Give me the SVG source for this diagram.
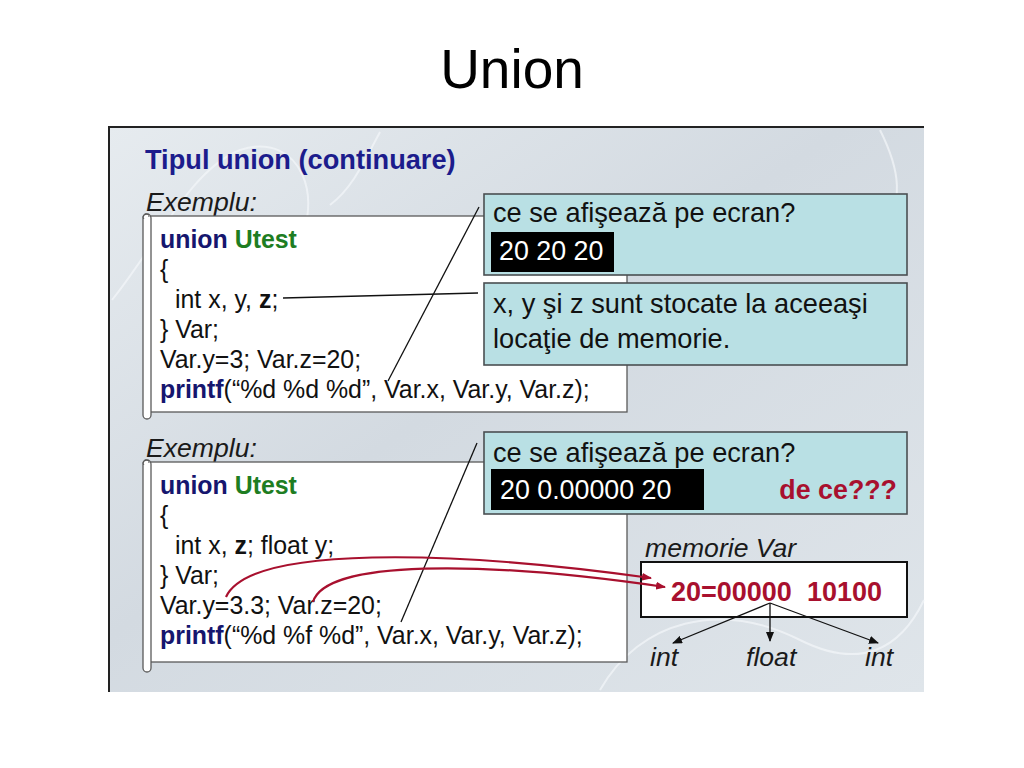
<svg xmlns="http://www.w3.org/2000/svg" width="1024" height="768" viewBox="0 0 1024 768">
<defs>
<linearGradient id="bg" x1="0" y1="0" x2="1" y2="1">
<stop offset="0" stop-color="#e6ebef"/>
<stop offset="0.45" stop-color="#d3dae1"/>
<stop offset="1" stop-color="#dfe5ea"/>
</linearGradient>
<marker id="ah" markerWidth="10" markerHeight="8" refX="9" refY="4" orient="auto" markerUnits="userSpaceOnUse">
<path d="M0,0 L10,4 L0,8 z" fill="#111"/>
</marker>
<marker id="ahr" markerWidth="10" markerHeight="8" refX="9" refY="4" orient="auto" markerUnits="userSpaceOnUse">
<path d="M0,0 L10,4 L0,8 z" fill="#a8102e"/>
</marker>
</defs>
<style>
text{font-family:"Liberation Sans",Arial,sans-serif;}
.code{font-size:24.9px;fill:#111;}
.kw{font-weight:bold;fill:#16166e;}
.ty{font-weight:bold;fill:#1e7d22;}
.b{font-weight:bold;}
.it{font-style:italic;font-size:26.6px;fill:#1a1a1a;}
.call{fill:#b9e0e4;stroke:#4a4f52;stroke-width:1.6;}
.ct{font-size:27.2px;fill:#111;}
.blk{fill:#000;}
.wt{font-size:26.8px;fill:#fff;}
.red{fill:#a8102e;font-weight:bold;}
.box{fill:#fff;stroke:#5a5a5a;stroke-width:1.3;}
.ln{stroke:#111;stroke-width:1.3;fill:none;}
.rl{stroke:#a8102e;stroke-width:2.2;fill:none;}
.swirl{stroke:#f4f7f9;stroke-width:2;fill:none;opacity:0.7;}
</style>
<rect width="1024" height="768" fill="#fff"/>
<g id="title"><text x="512" y="88" font-size="55" text-anchor="middle" fill="#000">Union</text></g>
<g id="panel">
<rect x="109" y="127" width="815" height="565" fill="url(#bg)"/>
<path class="swirl" d="M112,300 C160,240 190,170 240,150 C300,130 330,200 290,260"/>
<path class="swirl" d="M600,690 C640,620 720,600 800,640 C860,670 900,650 924,600"/>
<path class="swirl" d="M880,130 C900,170 905,200 880,240"/>
<path class="swirl" d="M380,132 C360,170 350,190 330,205"/>
<path d="M109,692 L109,127 L924,127" stroke="#222" stroke-width="2" fill="none"/>
</g>
<g id="heading"><text x="145" y="169" font-size="27.2" font-weight="bold" fill="#1c1c8c">Tipul union (continuare)</text></g>
<g id="exemplu1"><text class="it" x="146" y="211">Exemplu:</text></g>
<g id="code1">
<rect class="box" x="150" y="216" width="477" height="196"/>
<rect class="box" x="143" y="214" width="8" height="205" rx="4"/>
<path d="M144,219 a3,3 0 1 1 5,-2" fill="none" stroke="#5a5a5a" stroke-width="1"/>
<text class="code" x="160" y="248"><tspan class="kw">union</tspan> <tspan class="ty">Utest</tspan></text>
<text class="code" x="160" y="278">{</text>
<text class="code" x="175" y="308">int x, y, <tspan class="b">z</tspan>;</text>
<text class="code" x="160" y="338">} Var;</text>
<text class="code" x="160" y="368">Var.y=3; Var.z=20;</text>
<text class="code" x="160" y="398"><tspan class="kw">printf</tspan>(“%d %d %d”, Var.x, Var.y, Var.z);</text>
</g>
<g id="exemplu2"><text class="it" x="146" y="457">Exemplu:</text></g>
<g id="code2">
<rect class="box" x="150" y="462" width="477" height="200"/>
<rect class="box" x="143" y="460" width="8" height="212" rx="4"/>
<path d="M144,465 a3,3 0 1 1 5,-2" fill="none" stroke="#5a5a5a" stroke-width="1"/>
<text class="code" x="160" y="494"><tspan class="kw">union</tspan> <tspan class="ty">Utest</tspan></text>
<text class="code" x="160" y="524">{</text>
<text class="code" x="175" y="554">int x, <tspan class="b">z</tspan>; float y;</text>
<text class="code" x="160" y="584">} Var;</text>
<text class="code" x="160" y="614">Var.y=3.3; Var.z=20;</text>
<text class="code" x="160" y="644"><tspan class="kw">printf</tspan>(“%d %f %d”, Var.x, Var.y, Var.z);</text>
</g>
<g id="callout1">
<rect class="call" x="484" y="194" width="423" height="81"/>
<text class="ct" x="493" y="222">ce se afişează pe ecran?</text>
<rect class="blk" x="491" y="232" width="123" height="40"/>
<text class="wt" x="499" y="260">20 20 20</text>
</g>
<g id="callout2">
<rect class="call" x="484" y="283" width="423" height="82"/>
<text class="ct" x="493" y="313">x, y şi z sunt stocate la aceeaşi</text>
<text class="ct" x="493" y="348">locaţie de memorie.</text>
</g>
<g id="callout3">
<rect class="call" x="484" y="432" width="423" height="82"/>
<text class="ct" x="493" y="462">ce se afişează pe ecran?</text>
<rect class="blk" x="491" y="469" width="213" height="41"/>
<text class="wt" x="500" y="499">20 0.00000 20</text>
<text x="897" y="499" font-size="26.8" class="red" text-anchor="end">de ce???</text>
</g>
<g id="memory">
<text class="it" x="645" y="557">memorie Var</text>
<rect x="641" y="562" width="266" height="55" fill="#fff" stroke="#111" stroke-width="2"/>
<text x="671" y="601" font-size="27" class="red" style="white-space:pre">20=00000  10100</text>
</g>
<g id="types">
<text class="it" x="650" y="666">int</text>
<text class="it" x="746" y="666">float</text>
<text class="it" x="865" y="666">int</text>
</g>
<g id="connectors">
<line class="ln" x1="479" y1="207" x2="388" y2="381"/>
<line class="ln" x1="283" y1="298" x2="478" y2="293"/>
<line class="ln" x1="477" y1="443" x2="401" y2="622"/>
<line class="ln" x1="770" y1="603" x2="673" y2="643" marker-end="url(#ah)"/>
<line class="ln" x1="770" y1="603" x2="770" y2="641" marker-end="url(#ah)"/>
<line class="ln" x1="770" y1="603" x2="878" y2="643" marker-end="url(#ah)"/>
<path class="rl" d="M226,597 C250,545 450,550 651,578" marker-end="url(#ahr)"/>
<path class="rl" d="M313,602 C325,560 480,560 665,587" marker-end="url(#ahr)"/>
</g>
</svg>
